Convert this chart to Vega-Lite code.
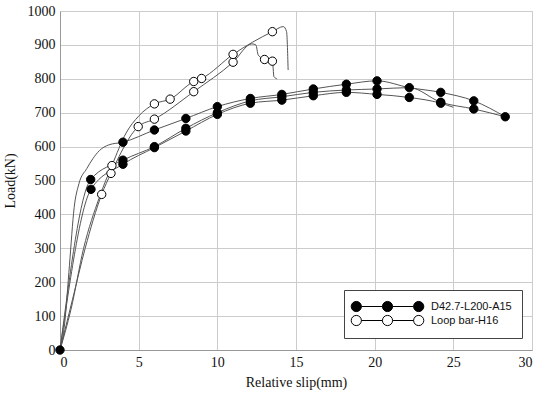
{
  "$schema": "https://vega.github.io/schema/vega-lite/v6.json",
  "width": 472,
  "height": 339,
  "autosize": {"type": "none"},
  "padding": {"left": 60, "top": 11, "right": 18, "bottom": 49},
  "background": "white",
  "datasets": {
    "lines": [
      {"curve": "A", "slip": 0, "load": 0},
      {"curve": "A", "slip": 0.3, "load": 80},
      {"curve": "A", "slip": 0.6, "load": 250},
      {"curve": "A", "slip": 0.9, "load": 420},
      {"curve": "A", "slip": 1.2, "load": 490},
      {"curve": "A", "slip": 1.7, "load": 535},
      {"curve": "A", "slip": 2.1, "load": 565},
      {"curve": "A", "slip": 2.5, "load": 588},
      {"curve": "A", "slip": 3.1, "load": 605},
      {"curve": "A", "slip": 4.0, "load": 613},
      {"curve": "A", "slip": 6.0, "load": 649},
      {"curve": "A", "slip": 8.0, "load": 683},
      {"curve": "A", "slip": 10.0, "load": 718},
      {"curve": "A", "slip": 12.1, "load": 742},
      {"curve": "A", "slip": 14.1, "load": 754},
      {"curve": "A", "slip": 16.1, "load": 770},
      {"curve": "A", "slip": 18.2, "load": 784},
      {"curve": "A", "slip": 20.15, "load": 794},
      {"curve": "A", "slip": 22.2, "load": 774},
      {"curve": "A", "slip": 24.2, "load": 760},
      {"curve": "A", "slip": 26.3, "load": 735},
      {"curve": "A", "slip": 28.3, "load": 688},
      {"curve": "B", "slip": 0, "load": 0},
      {"curve": "B", "slip": 1.95, "load": 503},
      {"curve": "B", "slip": 4.0, "load": 560},
      {"curve": "B", "slip": 6.0, "load": 600},
      {"curve": "B", "slip": 8.0, "load": 654},
      {"curve": "B", "slip": 10.0, "load": 700},
      {"curve": "B", "slip": 12.1, "load": 735},
      {"curve": "B", "slip": 14.1, "load": 747},
      {"curve": "B", "slip": 16.1, "load": 760},
      {"curve": "B", "slip": 18.2, "load": 767},
      {"curve": "B", "slip": 20.15, "load": 770},
      {"curve": "B", "slip": 22.2, "load": 774},
      {"curve": "B", "slip": 24.2, "load": 731},
      {"curve": "B", "slip": 26.3, "load": 711},
      {"curve": "B", "slip": 28.3, "load": 688},
      {"curve": "C", "slip": 0, "load": 0},
      {"curve": "C", "slip": 1.97, "load": 474},
      {"curve": "C", "slip": 4.0, "load": 548},
      {"curve": "C", "slip": 6.0, "load": 597},
      {"curve": "C", "slip": 8.0, "load": 646},
      {"curve": "C", "slip": 10.0, "load": 695},
      {"curve": "C", "slip": 12.1, "load": 728},
      {"curve": "C", "slip": 14.1, "load": 737},
      {"curve": "C", "slip": 16.1, "load": 750},
      {"curve": "C", "slip": 18.2, "load": 760},
      {"curve": "C", "slip": 20.15, "load": 754},
      {"curve": "C", "slip": 22.2, "load": 745},
      {"curve": "C", "slip": 24.2, "load": 728},
      {"curve": "C", "slip": 25.0, "load": 716},
      {"curve": "L1", "slip": 0, "load": 0},
      {"curve": "L1", "slip": 0.8, "load": 150},
      {"curve": "L1", "slip": 1.6, "load": 300},
      {"curve": "L1", "slip": 2.65, "load": 459},
      {"curve": "L1", "slip": 3.24, "load": 521},
      {"curve": "L1", "slip": 4.97, "load": 659},
      {"curve": "L1", "slip": 6.0, "load": 681},
      {"curve": "L1", "slip": 8.5, "load": 762},
      {"curve": "L1", "slip": 11.0, "load": 849},
      {"curve": "L1", "slip": 12.2, "load": 903},
      {"curve": "L1", "slip": 12.45, "load": 900},
      {"curve": "L1", "slip": 12.6, "load": 870},
      {"curve": "L1", "slip": 13.0, "load": 857},
      {"curve": "L1", "slip": 13.5, "load": 852},
      {"curve": "L1", "slip": 13.6, "load": 806},
      {"curve": "L1", "slip": 13.8, "load": 800},
      {"curve": "L2", "slip": 0, "load": 0},
      {"curve": "L2", "slip": 0.7, "load": 120},
      {"curve": "L2", "slip": 1.5, "load": 300},
      {"curve": "L2", "slip": 2.5, "load": 450},
      {"curve": "L2", "slip": 3.3, "load": 544},
      {"curve": "L2", "slip": 4.2, "load": 640},
      {"curve": "L2", "slip": 5.0, "load": 690},
      {"curve": "L2", "slip": 6.0, "load": 726},
      {"curve": "L2", "slip": 7.0, "load": 740},
      {"curve": "L2", "slip": 8.5, "load": 792},
      {"curve": "L2", "slip": 9.0, "load": 801},
      {"curve": "L2", "slip": 11.0, "load": 872},
      {"curve": "L2", "slip": 13.5, "load": 939},
      {"curve": "L2", "slip": 14.2, "load": 954},
      {"curve": "L2", "slip": 14.4, "load": 939},
      {"curve": "L2", "slip": 14.5, "load": 826}
    ],
    "markers": [
      {"series": "D42.7-L200-A15", "slip": 0, "load": 0},
      {"series": "D42.7-L200-A15", "slip": 1.95, "load": 503},
      {"series": "D42.7-L200-A15", "slip": 1.97, "load": 474},
      {"series": "D42.7-L200-A15", "slip": 4.0, "load": 613},
      {"series": "D42.7-L200-A15", "slip": 4.0, "load": 560},
      {"series": "D42.7-L200-A15", "slip": 4.0, "load": 548},
      {"series": "D42.7-L200-A15", "slip": 6.0, "load": 649},
      {"series": "D42.7-L200-A15", "slip": 6.0, "load": 600},
      {"series": "D42.7-L200-A15", "slip": 6.0, "load": 597},
      {"series": "D42.7-L200-A15", "slip": 8.0, "load": 683},
      {"series": "D42.7-L200-A15", "slip": 8.0, "load": 654},
      {"series": "D42.7-L200-A15", "slip": 8.0, "load": 646},
      {"series": "D42.7-L200-A15", "slip": 10.0, "load": 718},
      {"series": "D42.7-L200-A15", "slip": 10.0, "load": 700},
      {"series": "D42.7-L200-A15", "slip": 10.0, "load": 695},
      {"series": "D42.7-L200-A15", "slip": 12.1, "load": 742},
      {"series": "D42.7-L200-A15", "slip": 12.1, "load": 735},
      {"series": "D42.7-L200-A15", "slip": 12.1, "load": 728},
      {"series": "D42.7-L200-A15", "slip": 14.1, "load": 754},
      {"series": "D42.7-L200-A15", "slip": 14.1, "load": 747},
      {"series": "D42.7-L200-A15", "slip": 14.1, "load": 737},
      {"series": "D42.7-L200-A15", "slip": 16.1, "load": 770},
      {"series": "D42.7-L200-A15", "slip": 16.1, "load": 760},
      {"series": "D42.7-L200-A15", "slip": 16.1, "load": 750},
      {"series": "D42.7-L200-A15", "slip": 18.2, "load": 784},
      {"series": "D42.7-L200-A15", "slip": 18.2, "load": 767},
      {"series": "D42.7-L200-A15", "slip": 18.2, "load": 760},
      {"series": "D42.7-L200-A15", "slip": 20.15, "load": 794},
      {"series": "D42.7-L200-A15", "slip": 20.15, "load": 770},
      {"series": "D42.7-L200-A15", "slip": 20.15, "load": 754},
      {"series": "D42.7-L200-A15", "slip": 22.2, "load": 774},
      {"series": "D42.7-L200-A15", "slip": 22.2, "load": 745},
      {"series": "D42.7-L200-A15", "slip": 24.2, "load": 760},
      {"series": "D42.7-L200-A15", "slip": 24.2, "load": 731},
      {"series": "D42.7-L200-A15", "slip": 24.2, "load": 728},
      {"series": "D42.7-L200-A15", "slip": 26.3, "load": 735},
      {"series": "D42.7-L200-A15", "slip": 26.3, "load": 711},
      {"series": "D42.7-L200-A15", "slip": 28.3, "load": 688},
      {"series": "Loop bar-H16", "slip": 2.65, "load": 459},
      {"series": "Loop bar-H16", "slip": 3.24, "load": 521},
      {"series": "Loop bar-H16", "slip": 3.3, "load": 544},
      {"series": "Loop bar-H16", "slip": 4.97, "load": 659},
      {"series": "Loop bar-H16", "slip": 6.0, "load": 681},
      {"series": "Loop bar-H16", "slip": 6.0, "load": 726},
      {"series": "Loop bar-H16", "slip": 7.0, "load": 740},
      {"series": "Loop bar-H16", "slip": 8.5, "load": 762},
      {"series": "Loop bar-H16", "slip": 8.5, "load": 792},
      {"series": "Loop bar-H16", "slip": 9.0, "load": 801},
      {"series": "Loop bar-H16", "slip": 11.0, "load": 849},
      {"series": "Loop bar-H16", "slip": 11.0, "load": 872},
      {"series": "Loop bar-H16", "slip": 13.5, "load": 939},
      {"series": "Loop bar-H16", "slip": 13.0, "load": 857},
      {"series": "Loop bar-H16", "slip": 13.5, "load": 852}
    ]
  },
  "config": {
    "view": {"stroke": "#aaaaaa", "strokeWidth": 1},
    "axis": {
      "labelFont": "Liberation Serif",
      "labelFontSize": 14,
      "labelColor": "#111111",
      "titleFont": "Liberation Serif",
      "titleFontSize": 14,
      "titleFontWeight": "normal",
      "titleColor": "#111111",
      "gridColor": "#cccccc",
      "gridWidth": 1,
      "domainColor": "#999999",
      "ticks": false,
      "labelPadding": 5
    }
  },
  "encoding": {
    "x": {"field": "slip", "type": "quantitative", "scale": {"domain": [0, 30], "nice": false},
      "axis": {"title": "Relative slip(mm)", "tickCount": 6, "labelOverlap": false, "format": "d", "titlePadding": 6}},
    "y": {"field": "load", "type": "quantitative", "scale": {"domain": [0, 1000], "nice": false},
      "axis": {"title": "Load(kN)", "tickCount": 10, "tickMinStep": 100, "labelOverlap": false, "labelSeparation": 0, "format": "d", "titlePadding": 10}}
  },
  "layer": [
    {
      "data": {"name": "lines"},
      "mark": {"type": "line", "color": "#555555", "strokeWidth": 1, "interpolate": "monotone"},
      "encoding": {
        "detail": {"field": "curve", "type": "nominal"},
        "order": {"field": "slip", "type": "quantitative"}
      }
    },
    {
      "data": {"name": "markers"},
      "mark": {"type": "point", "shape": "circle", "size": 70, "stroke": "black", "strokeWidth": 1, "opacity": 1, "filled": true},
      "encoding": {
        "fill": {"field": "series", "type": "nominal",
          "scale": {"domain": ["D42.7-L200-A15", "Loop bar-H16"], "range": ["black", "white"]},
          "legend": {
            "title": null,
            "orient": "none",
            "legendX": 284,
            "legendY": 279,
            "direction": "vertical",
            "fillColor": "white",
            "strokeColor": "#444444",
            "padding": 10,
            "rowPadding": -4,
            "symbolType": "M -6.05 0 A 0.85 0.85 0 1 0 -4.35 0 A 0.85 0.85 0 1 0 -6.05 0 Z M -4.35 0 L -0.85 0 M -0.85 0 A 0.85 0.85 0 1 0 0.85 0 A 0.85 0.85 0 1 0 -0.85 0 Z M 0.85 0 L 4.35 0 M 4.35 0 A 0.85 0.85 0 1 0 6.05 0 A 0.85 0.85 0 1 0 4.35 0 Z",
            "symbolSize": 144,
            "symbolStrokeColor": "black",
            "symbolStrokeWidth": 1,
            "symbolOpacity": 1,
            "symbolOffset": 27,
            "labelOffset": 37,
            "labelFont": "Liberation Sans",
            "labelFontSize": 11,
            "labelColor": "#111111"
          }}
      }
    }
  ]
}
